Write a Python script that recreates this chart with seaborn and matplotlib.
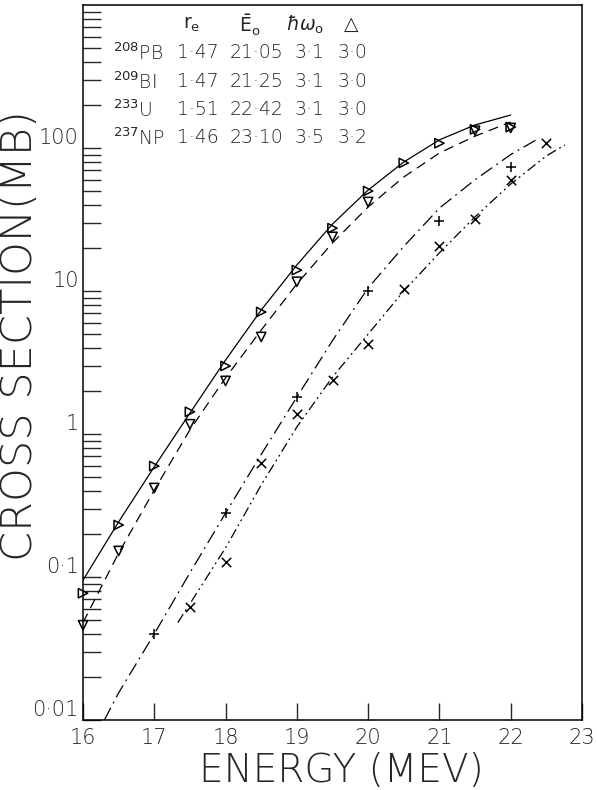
import numpy as np
import seaborn as sns
import matplotlib.pyplot as plt
from matplotlib.ticker import LogLocator, NullFormatter, FixedLocator

# measured points (energy in MeV, cross section in mb)
e_pb = [16.0, 16.5, 17.0, 17.5, 18.0, 18.5, 19.0, 19.5, 20.0, 20.5, 21.0, 21.5, 22.0]
s_pb = [0.077, 0.231, 0.597, 1.43, 2.99, 7.13, 14.0, 27.5, 50.0, 78.6, 108, 135, 140]

e_bi = [16.0, 16.5, 17.0, 17.5, 18.0, 18.5, 19.0, 19.5, 20.0, 21.5, 22.0]
s_bi = [0.046, 0.152, 0.419, 1.17, 2.35, 4.77, 11.6, 23.9, 41.9, 132, 138]

e_u = [17.0, 18.0, 19.0, 20.0, 21.0, 22.0]
s_u = [0.040, 0.280, 1.81, 10.0, 30.8, 73.6]

e_np = [17.5, 18.0, 18.5, 19.0, 19.5, 20.0, 20.5, 21.0, 21.5, 22.0, 22.5]
s_np = [0.062, 0.127, 0.627, 1.38, 2.39, 4.26, 10.3, 20.7, 31.8, 59.7, 108]

# fitted curves
c_pb_e = [16.0, 16.5, 17.0, 17.5, 18.0, 18.5, 19.0, 19.5, 20.0, 20.5, 21.0, 21.5, 22.0]
c_pb_s = [0.095, 0.243, 0.59, 1.40, 3.29, 7.36, 15.2, 29.4, 50.8, 79.8, 114, 145, 170]

c_bi_e = [16.0, 16.5, 17.0, 17.5, 18.0, 18.5, 19.0, 19.5, 20.0, 20.5, 21.0, 21.5, 22.0]
c_bi_s = [0.048, 0.147, 0.405, 1.07, 2.47, 5.33, 11.2, 21.7, 38.7, 62.7, 92.3, 121, 152]

c_u_e = [16.3, 16.5, 17.0, 17.5, 18.0, 18.5, 19.0, 19.5, 20.0, 20.5, 21.0, 21.5, 22.0, 22.41]
c_u_s = [0.010, 0.0155, 0.040, 0.107, 0.28, 0.72, 1.81, 4.5, 10.5, 20.5, 38.0, 60.0, 90.0, 118]

c_np_e = [17.33, 17.5, 18.0, 18.5, 19.0, 19.5, 20.0, 20.5, 21.0, 21.5, 22.0, 22.5, 22.76]
c_np_s = [0.048, 0.065, 0.16, 0.44, 1.12, 2.5, 5.0, 10.0, 18.5, 33.0, 56.0, 88.0, 105]

# parameter table
nuclei = [r"$^{208}$PB", r"$^{209}$BI", r"$^{233}$U", r"$^{237}$NP"]
r_e = ["1·47", "1·47", "1·51", "1·46"]
e0 = ["21·05", "21·25", "22·42", "23·10"]
hw0 = ["3·1", "3·1", "3·1", "3·5"]
delta = ["3·0", "3·0", "3·0", "3·2"]
headers = [r"$\mathrm{r}_\mathrm{e}$", r"$\bar{\mathrm{E}}_\mathrm{o}$",
           r"$\hbar\omega_\mathrm{o}$", r"$\triangle$"]

sns.set_style("ticks")
plt.rcParams["font.family"] = ["DejaVu Sans"]

fig = plt.figure(figsize=(5.97, 7.90), dpi=100)
ax = fig.add_axes([83 / 597, 70 / 790, (582 - 83) / 597, 715 / 790])

lw = 0.9
sns.lineplot(x=c_pb_e, y=c_pb_s, ax=ax, color="black", lw=lw, linestyle="-")
sns.lineplot(x=c_bi_e, y=c_bi_s, ax=ax, color="black", lw=lw, linestyle=(0, (8, 5)))
sns.lineplot(x=c_u_e, y=c_u_s, ax=ax, color="black", lw=lw, linestyle=(0, (11, 4, 1.5, 4)))
sns.lineplot(x=c_np_e, y=c_np_s, ax=ax, color="black", lw=lw,
             linestyle=(0, (8, 3, 1.5, 3, 1.5, 3)))

sns.scatterplot(x=e_pb, y=s_pb, ax=ax, marker=">", s=45, facecolor="none",
                edgecolor="black", linewidth=1.1, zorder=3, clip_on=False)
sns.scatterplot(x=e_bi, y=s_bi, ax=ax, marker="v", s=45, facecolor="none",
                edgecolor="black", linewidth=1.1, zorder=3, clip_on=False)
sns.scatterplot(x=e_u, y=s_u, ax=ax, marker="+", s=55, color="black",
                linewidth=1.1, zorder=3)
sns.scatterplot(x=e_np, y=s_np, ax=ax, marker="x", s=45, color="black",
                linewidth=1.1, zorder=3)

ax.set_yscale("log")
ax.set_xlim(16, 23)
ax.set_ylim(0.01, 1000)

ax.xaxis.set_major_locator(FixedLocator(range(16, 24)))
ax.set_xticklabels([str(v) for v in range(16, 24)])
ax.yaxis.set_major_locator(FixedLocator([0.01, 0.1, 1, 10, 100]))
ax.set_yticklabels(["0·01", "0·1", "1", "10", "100"])
ax.yaxis.set_minor_locator(LogLocator(base=10, subs=np.arange(2, 10)))
ax.yaxis.set_minor_formatter(NullFormatter())

ax.tick_params(axis="x", direction="in", length=12, width=1, pad=6,
               labelsize=15, top=False)
ax.tick_params(axis="y", which="both", direction="in", length=13, width=1,
               pad=3, labelsize=15, right=False)
for lab in ax.get_yticklabels():
    lab.set_verticalalignment("bottom")
for lab in ax.get_xticklabels() + ax.get_yticklabels():
    lab.set_fontweight("light")

for sp in ax.spines.values():
    sp.set_linewidth(1.1)
    sp.set_color("black")

ax.set_xlabel("ENERGY (MEV)", fontsize=28, fontweight="light")
ax.set_ylabel("CROSS SECTION(MB)", fontsize=31, fontweight="light", va="center")
ax.xaxis.set_label_coords(0.517, -0.045)
ax.yaxis.set_label_coords(-0.128, 0.538)

# table of fit parameters
tkw = dict(transform=ax.transAxes, fontsize=13.5, fontweight="light", va="center")
hx = [192, 250, 305, 350]
for h, xp in zip(headers, hx):
    ax.text((xp - 83) / 499, 1 - 20 / 715, h, ha="center", **tkw)
row_y = [53, 82, 110, 138]
col_x = [113, 177, 230, 295, 338]
for i in range(4):
    y = 1 - (row_y[i] - 5) / 715
    vals = [nuclei[i], r_e[i], e0[i], hw0[i], delta[i]]
    for v, xp in zip(vals, col_x):
        ax.text((xp - 83) / 499, y, v, ha="left", **tkw)

fig.savefig("out.png", dpi=100)
